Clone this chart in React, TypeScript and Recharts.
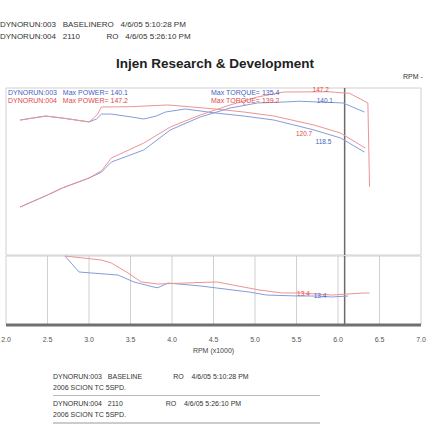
import { LineChart, Line, XAxis, YAxis, CartesianGrid, ReferenceLine, ReferenceDot } from 'recharts';

// run 003 = baseline (blue), run 004 = intake 2110 (red)
const rpmTicks = [2, 2.5, 3, 3.5, 4, 4.5, 5, 5.5, 6, 6.5, 7];
const upperTicks = [30, 40, 50, 60, 70, 80, 90, 100, 110, 120, 130, 140, 150];
const lowerTicks = [11, 12, 13, 14, 15, 16];
const cursorRpm = 6.08;

const bluePowerRpm = [2.17, 2.5, 2.68, 3.0, 3.15, 3.27, 3.66, 3.98, 4.34, 4.7, 5.03, 5.35, 5.53, 6.06, 6.32];
const bluePowerHp = [60.9, 69.9, 75.2, 82.6, 87, 94.6, 103.6, 118.6, 128.3, 135, 138.8, 139.5, 140.1, 138.8, 132];

const redPowerRpm = [2.17, 2.5, 2.68, 3.0, 3.15, 3.27, 3.66, 3.98, 4.34, 4.7, 5.03, 5.35, 5.88, 6.14, 6.36, 6.38];
const redPowerHp = [60.9, 69.9, 75.2, 82.6, 88, 97.6, 108.8, 120.8, 129.8, 137.3, 143.3, 147, 147.2, 146, 138.8, 76];

const blueTorqueRpm = [2.17, 2.32, 2.48, 2.68, 3.0, 3.09, 3.15, 3.27, 3.51, 3.66, 3.81, 3.92, 4.16, 4.52, 4.87, 5.23, 5.71, 6.03, 6.32];
const blueTorque = [126, 127.5, 129, 127.5, 124.6, 126.8, 130.5, 130.5, 128.3, 126.8, 129, 132, 134.3, 131.3, 129, 126, 118.6, 112.6, 102];

const redTorqueRpm = [2.17, 2.32, 2.48, 2.68, 3.0, 3.1, 3.15, 3.5, 3.95, 4.52, 4.87, 5.23, 5.71, 6.03, 6.33];
const redTorque = [126, 127.5, 129, 127.5, 124.6, 130, 135.8, 136, 137.3, 134.3, 132, 129, 122.3, 116.3, 105];

const blueAfrRpm = [2.71, 2.88, 3.03, 3.35, 3.54, 3.78, 3.83, 3.95, 4.34, 4.54, 4.93, 5.14, 5.53, 5.76, 5.92, 6.12];
const blueAfr = [16, 14.84, 14.77, 14.62, 14.12, 13.75, 13.7, 14.04, 13.83, 13.68, 13.39, 13.17, 13.1, 13.1, 13.03, 13.1];

const redAfrRpm = [2.71, 3.15, 3.27, 3.47, 3.63, 3.83, 4.14, 4.54, 4.73, 5.05, 5.33, 5.56, 5.92, 6.32, 6.38];
const redAfr = [16, 15.71, 15.49, 14.77, 14.12, 13.97, 14.04, 14.12, 13.9, 13.54, 13.32, 13.32, 13.17, 13.32, 13.32];

const BLUE = '#839ddc';
const RED = '#ef9393';
const BLUE_TXT = '#3f63bf';
const RED_TXT = '#e04a4a';
const GRID = '#d0d0d0';
const FONT = '"Liberation Sans", Arial, sans-serif';

const zip = (xs: number[], ys: number[]) => xs.map((rpm, i) => ({ rpm, v: ys[i] }));

const small = { position: 'absolute' as const, fontSize: 7, whiteSpace: 'pre' as const, lineHeight: '8px' };

export default function App() {
  return (
    <div
      style={{
        position: 'absolute',
        left: 0,
        top: 0,
        width: 430,
        height: 430,
        overflow: 'hidden',
        background: '#fff',
        fontFamily: FONT,
        color: '#333',
      }}
    >
      <div style={{ ...small, fontSize: 8, left: 0, top: 21 }}>DYNORUN:003   BASELINERO   4/6/05 5:10:28 PM</div>
      <div style={{ ...small, fontSize: 8, left: 0, top: 33 }}>DYNORUN:004   2110            RO   4/6/05 5:26:10 PM</div>
      <div
        style={{
          position: 'absolute',
          left: 0,
          width: 430,
          top: 56,
          textAlign: 'center',
          fontSize: 13.5,
          fontWeight: 'bold',
          color: '#222',
        }}
      >
        Injen Research &amp; Development
      </div>
      <div style={{ ...small, left: 403, top: 73 }}>RPM -</div>

      <LineChart
        width={430}
        height={258}
        margin={{ top: 88, right: 9, bottom: 3, left: 6 }}
        style={{ position: 'absolute', left: 0, top: 0 }}
      >
        <CartesianGrid stroke={GRID} />
        <XAxis
          dataKey="rpm"
          type="number"
          domain={[2, 7]}
          ticks={rpmTicks}
          tick={false}
          tickLine={false}
          height={0}
          axisLine={{ stroke: '#707070', strokeWidth: 3 }}
        />
        <YAxis yAxisId="l" domain={[25, 150]} ticks={upperTicks} width={0} tick={false} tickLine={false} axisLine={{ stroke: '#c0c0c0' }} />
        <YAxis yAxisId="r" orientation="right" domain={[25, 150]} ticks={upperTicks} width={0} tick={false} tickLine={false} axisLine={{ stroke: '#707070', strokeWidth: 3 }} />
        <ReferenceLine yAxisId="l" x={cursorRpm} stroke="#6a6a6a" strokeWidth={1.5} />
        <Line yAxisId="l" data={zip(blueTorqueRpm, blueTorque)} dataKey="v" stroke={BLUE} strokeWidth={1} dot={false} isAnimationActive={false} />
        <Line yAxisId="l" data={zip(redTorqueRpm, redTorque)} dataKey="v" stroke={RED} strokeWidth={1} dot={false} isAnimationActive={false} />
        <Line yAxisId="l" data={zip(bluePowerRpm, bluePowerHp)} dataKey="v" stroke={BLUE} strokeWidth={1} dot={false} isAnimationActive={false} />
        <Line yAxisId="l" data={zip(redPowerRpm, redPowerHp)} dataKey="v" stroke={RED} strokeWidth={1} dot={false} isAnimationActive={false} />
        <ReferenceDot yAxisId="l" x={5.95} y={148.5} r={0} label={{ value: '147.2', position: 'left', fill: RED_TXT, fontSize: 6.5 }} />
        <ReferenceDot yAxisId="l" x={6.0} y={140.2} r={0} label={{ value: '140.1', position: 'left', fill: BLUE_TXT, fontSize: 6.5 }} />
        <ReferenceDot yAxisId="l" x={5.75} y={115.6} r={0} label={{ value: '120.7', position: 'left', fill: RED_TXT, fontSize: 6.5 }} />
        <ReferenceDot yAxisId="l" x={5.98} y={109.6} r={0} label={{ value: '118.5', position: 'left', fill: BLUE_TXT, fontSize: 6.5 }} />
      </LineChart>

      <div style={{ ...small, left: 8, top: 89, color: BLUE_TXT }}>DYNORUN:003   Max POWER= 140.1</div>
      <div style={{ ...small, left: 8, top: 97, color: RED_TXT }}>DYNORUN:004   Max POWER= 147.2</div>
      <div style={{ ...small, left: 211, top: 89, color: BLUE_TXT }}>Max TORQUE= 135.4</div>
      <div style={{ ...small, left: 211, top: 97, color: RED_TXT }}>Max TORQUE= 139.2</div>

      <LineChart
        width={430}
        height={112}
        margin={{ top: 6, right: 9, bottom: 0, left: 6 }}
        style={{ position: 'absolute', left: 0, top: 250 }}
      >
        <CartesianGrid stroke={GRID} />
        <XAxis
          dataKey="rpm"
          type="number"
          domain={[2, 7]}
          ticks={rpmTicks}
          interval={0}
          tickFormatter={(v: number) => v.toFixed(1)}
          tick={{ fontSize: 7, fill: '#555', fontFamily: FONT }}
          tickLine={false}
          tickMargin={6}
          height={37}
          axisLine={{ stroke: '#707070', strokeWidth: 3 }}
          label={{ value: 'RPM (x1000)', position: 'insideBottom', offset: 9, fontSize: 7, fill: '#444' }}
        />
        <YAxis yAxisId="l" domain={[11, 16]} ticks={lowerTicks} width={0} tick={false} tickLine={false} axisLine={{ stroke: '#c0c0c0' }} />
        <YAxis yAxisId="r" orientation="right" domain={[11, 16]} ticks={lowerTicks} width={0} tick={false} tickLine={false} axisLine={{ stroke: '#707070', strokeWidth: 3 }} />
        <ReferenceLine yAxisId="l" x={cursorRpm} stroke="#6a6a6a" strokeWidth={1.5} />
        <Line yAxisId="l" data={zip(blueAfrRpm, blueAfr)} dataKey="v" stroke={BLUE} strokeWidth={1} dot={false} isAnimationActive={false} />
        <Line yAxisId="l" data={zip(redAfrRpm, redAfr)} dataKey="v" stroke={RED} strokeWidth={1} dot={false} isAnimationActive={false} />
        <ReferenceDot yAxisId="l" x={5.72} y={13.25} r={0} label={{ value: '13.4', position: 'left', fill: RED_TXT, fontSize: 6.5 }} />
        <ReferenceDot yAxisId="l" x={5.92} y={13.1} r={0} label={{ value: '13.4', position: 'left', fill: BLUE_TXT, fontSize: 6.5 }} />
      </LineChart>

      <div style={{ ...small, left: 53, top: 373 }}>DYNORUN:003   BASELINE                RO    4/6/05 5:10:28 PM</div>
      <div style={{ ...small, left: 53, top: 384 }}>2006 SCION TC 5SPD.</div>
      <div style={{ position: 'absolute', left: 53, top: 395, width: 267, height: 1, background: '#bbb' }} />
      <div style={{ ...small, left: 53, top: 400 }}>DYNORUN:004   2110                      RO    4/6/05 5:26:10 PM</div>
      <div style={{ ...small, left: 53, top: 411 }}>2006 SCION TC 5SPD.</div>
      <div style={{ position: 'absolute', left: 53, top: 422, width: 267, height: 2, background: '#ccc' }} />
    </div>
  );
}
